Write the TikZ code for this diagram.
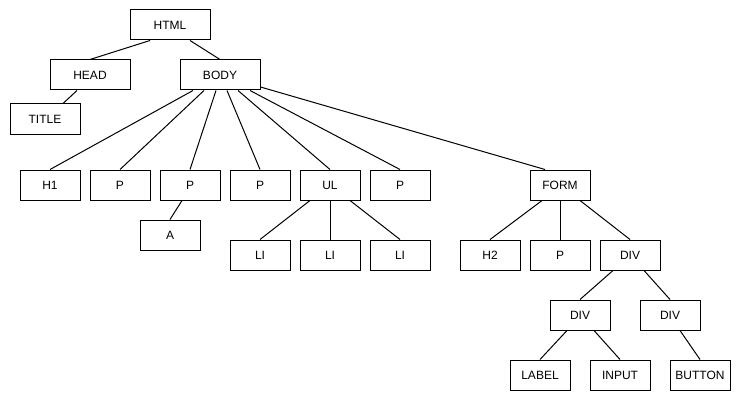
\documentclass[tikz,border=0pt]{standalone}
\usepackage{fontspec}
\setmainfont{Liberation Sans}
\usetikzlibrary{positioning}

\begin{document}
\begin{tikzpicture}[
  x=1pt, y=-1pt, line width=1pt,
  font=\fontsize{12}{14}\selectfont,
  tag/.style={draw, minimum width=60pt, minimum height=30pt, inner sep=0pt},
  largo/.style={tag, minimum width=80pt},
]
  \useasboundingbox (0,0) rectangle (741,401);

  \node[largo] (html) at (170,25) {HTML};
  \node[largo] (head) at (90,75) {HEAD};
  \node[largo] (body) at (220,75) {BODY};
  \node[tag, minimum width=70pt] (title) at (45,119) {TITLE};

  \node[tag] (h1) at (50,185) {H1};
  \node[tag, right=9pt of h1] (p1) {P};
  \node[tag, right=9pt of p1] (p2) {P};
  \node[tag, right=9pt of p2] (p3) {P};
  \node[tag, right=9pt of p3] (ul) {UL};
  \node[tag, right=9pt of ul] (p4) {P};
  \node[tag] (a) at (170,235) {A};
  \node[tag] (li1) at (260,255) {LI};
  \node[tag, right=9pt of li1] (li2) {LI};
  \node[tag, right=9pt of li2] (li3) {LI};

  \node[tag] (form) at (560,185) {FORM};
  \node[tag] (h2) at (490,255) {H2};
  \node[tag, right=9pt of h2] (p5) {P};
  \node[tag, right=9pt of p5] (div1) {DIV};
  \node[tag] (div2) at (580,315) {DIV};
  \node[tag] (div3) at (670,315) {DIV};
  \node[tag] (label) at (540,375) {LABEL};
  \node[tag, right=19pt of label] (input) {INPUT};
  \node[tag, right=19pt of input] (button) {BUTTON};

  \draw ([xshift=-20pt]html.south) -- (head.north);
  \draw ([xshift=20pt]html.south) -- (body.north);
  \draw ([xshift=-13pt]head.south) -- ([xshift=18pt]title.north);

  \draw ([xshift=-27pt]body.south) -- (h1.north);
  \draw ([xshift=-16pt]body.south) -- (p1.north);
  \draw ([xshift=-4pt]body.south) -- (p2.north);
  \draw ([xshift=7pt]body.south) -- (p3.north);
  \draw ([xshift=18pt]body.south) -- (ul.north);
  \draw ([xshift=30pt]body.south) -- (p4.north);
  \draw ([yshift=-12pt]body.east) -- ([xshift=-15pt]form.north);

  \draw ([xshift=-8pt]p2.south) -- (a.north);
  \draw ([xshift=-20pt]ul.south) -- (li1.north);
  \draw (ul.south) -- (li2.north);
  \draw ([xshift=20pt]ul.south) -- (li3.north);

  \draw ([xshift=-18pt]form.south) -- (h2.north);
  \draw (form.south) -- (p5.north);
  \draw ([xshift=20pt]form.south) -- (div1.north);
  \draw ([xshift=-17pt]div1.south) -- (div2.north);
  \draw ([xshift=14pt]div1.south) -- (div3.north);
  \draw ([xshift=-13pt]div2.south) -- (label.north);
  \draw ([xshift=14pt]div2.south) -- (input.north);
  \draw ([xshift=10pt]div3.south) -- (button.north);
\end{tikzpicture}
\end{document}
